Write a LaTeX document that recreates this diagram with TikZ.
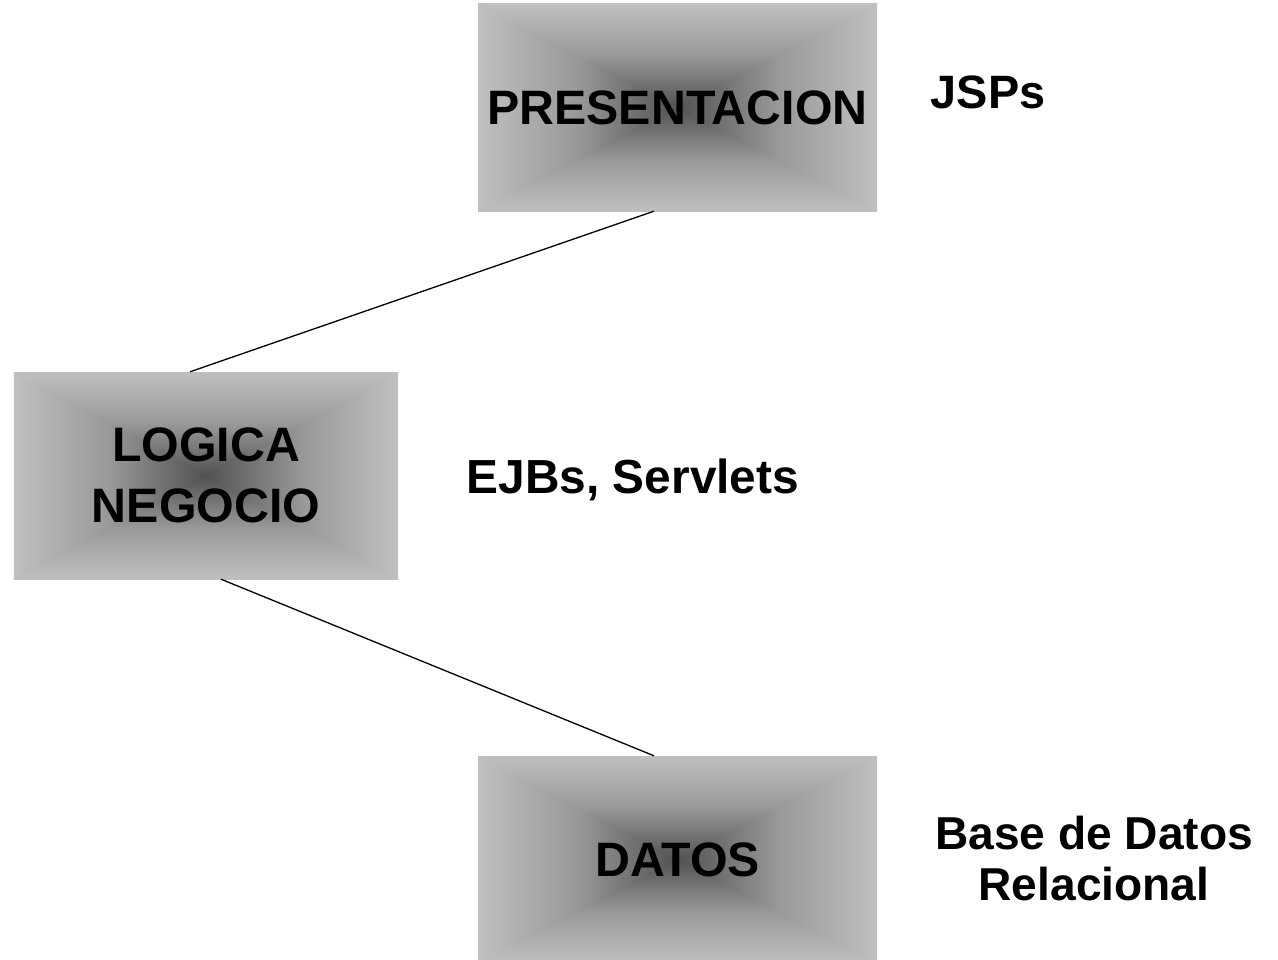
\documentclass[tikz,border=0pt]{standalone}
\usepackage{fontspec}
\setmainfont{Liberation Sans}
\usetikzlibrary{calc}
\definecolor{edgegray}{RGB}{192,192,192}
\definecolor{midgray}{RGB}{152,152,152}
\definecolor{coregray}{RGB}{82,82,82}
\tikzset{
  tier/.style={rectangle, inner sep=0pt, align=center,
    font=\bfseries\fontsize{48.5}{61}\selectfont,
    path picture={
      \coordinate (pNW) at (path picture bounding box.north west);
      \coordinate (pNE) at (path picture bounding box.north east);
      \coordinate (pSW) at (path picture bounding box.south west);
      \coordinate (pSE) at (path picture bounding box.south east);
      \coordinate (pC) at (path picture bounding box.center);
      \shade[left color=edgegray, right color=coregray, middle color=midgray] (pNW) rectangle (pC |- pSW);
      \shade[left color=coregray, right color=edgegray, middle color=midgray] (pNE) rectangle (pC |- pSE);
      \begin{scope}\clip ($(pC)!1.1!(pNW)$) -- ($(pC)!1.1!(pNE)$) -- (pC) -- cycle;
        \shade[top color=edgegray, bottom color=coregray, middle color=midgray] (pNW) rectangle (pNE |- pC);\end{scope}
      \begin{scope}\clip ($(pC)!1.1!(pSW)$) -- ($(pC)!1.1!(pSE)$) -- (pC) -- cycle;
        \shade[top color=coregray, bottom color=edgegray, middle color=midgray] (pSW) rectangle (pSE |- pC);\end{scope}
    }},
  lbl/.style={inner sep=0pt, align=center, font=\bfseries\fontsize{47}{52}\selectfont},
  link/.style={line width=1.3bp, black}
}
\begin{document}
\begin{tikzpicture}[x=1bp,y=-1bp]
\useasboundingbox (0,0) rectangle (1278,960);
\node[tier, minimum width=399bp, minimum height=207bp] (pres) at (677.5,107.5) {PRESENTACION};
\node[tier, minimum width=384bp, minimum height=207bp] (logic) at (206,475.5) {LOGICA\\NEGOCIO};
\node[tier, minimum width=399bp, minimum height=207bp] (data) at (677.5,859.5) {DATOS};
\node[lbl, anchor=base] (jsp) at (988,108) {JSPs};
\node[lbl, anchor=base, font=\bfseries\fontsize{48}{52}\selectfont] (ejb) at (633,493) {EJBs, Servlets};
\node[lbl, font=\bfseries\fontsize{46.3}{52}\selectfont] (bd) at (1094,858.5) {Base de Datos\\Relacional};
\draw[link] ([xshift=-23.5bp]pres.south) -- ([xshift=-16bp]logic.north);
\draw[link] ([xshift=15bp]logic.south) -- ([xshift=-23.5bp]data.north);
\end{tikzpicture}
\end{document}
